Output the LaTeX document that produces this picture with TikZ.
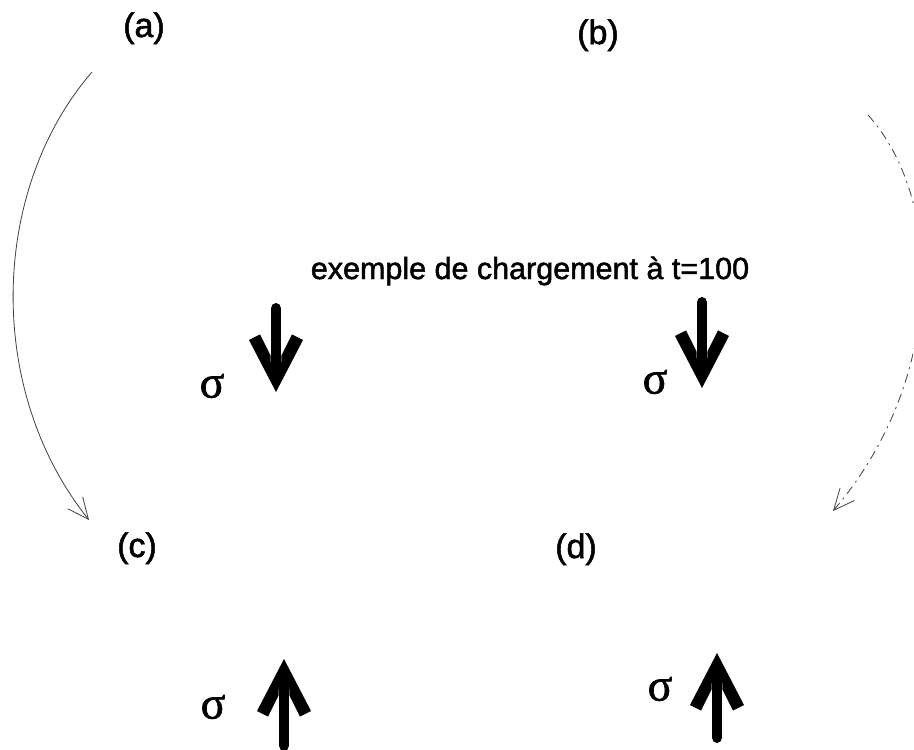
\documentclass[tikz,border=0pt]{standalone}
\usepackage{fontspec}
\setmainfont{Liberation Sans}
\newfontfamily\heavysans[FakeBold=1.6]{Liberation Sans}
\newfontfamily\greekserif[FakeBold=1.4]{Liberation Serif}
\usetikzlibrary{arrows.meta}

\tikzset{
  panel/.style={inner sep=0pt, font=\heavysans\fontsize{34}{40}\selectfont},
  caption/.style={inner sep=0pt, font=\heavysans\fontsize{30.5}{36}\selectfont},
  stress/.style={inner sep=0pt, font=\greekserif\fontsize{46}{50}\selectfont},
  flow/.style={line width=0.8pt, black!75, -{Straight Barb[length=21pt,width=19pt]}},
  % thick load arrow, tip at the origin, shaft of length #1 running towards +y
  pics/loadarrow/.style={code={
    \fill (0,0) -- (-27,52) -- (-16,57.6) -- (-5.4,36.5) -- (-5.4,30)
          -- (5.4,30) -- (5.4,36.5) -- (16,57.6) -- (27,52) -- cycle;
    \draw[line width=10.8pt, line cap=round] (0,30) -- (0,#1-5.4);
  }}
}

\begin{document}
\begin{tikzpicture}[x=1pt, y=-1pt]
  \fill[white] (0,0) rectangle (914,750);
  \clip (0,0) rectangle (914,750);

  % panel labels
  \node[panel, anchor=base] (la) at (144,37) {(a)};
  \node[panel, anchor=base] (lb) at (598,44) {(b)};
  \node[panel, anchor=base] (lc) at (137,557) {(c)};
  \node[panel, anchor=base] (ld) at (576,558) {(d)};

  \node[caption, anchor=base] (cap) at (530,279) {exemple de chargement à t=100};

  % stress symbols
  \node[stress] (sa) at (212,386) {σ};
  \node[stress] (sb) at (655,382) {σ};
  \node[stress] (sc) at (213,707) {σ};
  \node[stress] (sd) at (660,689) {σ};

  % loading arrows
  \pic[rotate=180] at (276,392) {loadarrow=89};
  \pic[rotate=180] at (702,388) {loadarrow=91};
  \pic at (284,659) {loadarrow=92};
  \pic at (717,653) {loadarrow=90};

  % sequence arrows between the panels
  \coordinate (a1) at (92,72);
  \coordinate (c1) at (89,520);
  \coordinate (b1) at (868,115);
  \coordinate (d1) at (833,511);
  \draw[flow] (a1) .. controls (-10,190) and (-15,390) .. (c1);
  \draw[flow, dash pattern=on 9pt off 5pt on 2pt off 5pt] (b1) .. controls (945,200) and (945,380) .. (d1);
\end{tikzpicture}
\end{document}
